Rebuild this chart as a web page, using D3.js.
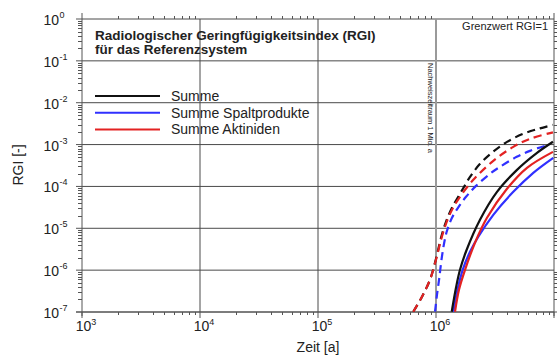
<!DOCTYPE html>
<html><head><meta charset="utf-8">
<script src="https://cdn.jsdelivr.net/npm/d3@7"></script>
<style>
html,body{margin:0;padding:0;background:#fff;}
text{font-family:"Liberation Sans",Arial,sans-serif;fill:#222;}
</style></head>
<body>
<svg id="chart" width="557" height="358"></svg>
<script>
// ---- data (time [a], RGI [-]) ----
const xTickExps = [3, 4, 5, 6];
const yTickExps = [0, -1, -2, -3, -4, -5, -6, -7];
const titleLines = ["Radiologischer Geringfügigkeitsindex (RGI)", "für das Referenzsystem"];
const legendLabels = ["Summe", "Summe Spaltprodukte", "Summe Aktiniden"];
const seriesColors = ["#111111", "#3030ff", "#e32222"];

const summeDashed = [[6.42e5,1.016e-7],[7.61e5,2.32e-7],[8.89e5,5.9e-7],[1.0e6,1.87e-6],[1.103e6,5.93e-6],[1.215e6,1.43e-5],[1.366e6,3.08e-5],[1.651e6,7.85e-5],[1.942e6,1.69e-4],[2.36e6,3.46e-4],[3.042e6,6.7e-4],[3.997e6,1.16e-3],[5.462e6,1.8e-3],[7.61e6,2.44e-3],[9.8e6,2.95e-3]];
const aktinidenDashed = [[6.42e5,1.016e-7],[7.61e5,2.32e-7],[8.89e5,5.9e-7],[1.0e6,1.77e-6],[1.103e6,5.32e-6],[1.215e6,1.28e-5],[1.366e6,2.76e-5],[1.597e6,5.65e-5],[2.071e6,1.44e-4],[3.059e6,4.08e-4],[4.52e6,8.81e-4],[6.26e6,1.37e-3],[9.8e6,1.96e-3]];
const spaltDashed = [[9.81e5,1.016e-7],[1.02e6,2.59e-7],[1.067e6,6.58e-7],[1.113e6,1.77e-6],[1.169e6,4.27e-6],[1.239e6,8.72e-6],[1.366e6,1.78e-5],[1.536e6,3.08e-5],[1.796e6,5.65e-5],[2.183e6,1.03e-4],[2.868e6,2.0e-4],[3.486e6,2.94e-4],[4.83e6,5.09e-4],[6.26e6,7.07e-4],[8.39e6,9.31e-4]];
const summeSolid = [[1.359e6,1.016e-7],[1.477e6,3.8e-7],[1.597e6,1.02e-6],[1.82e6,3.07e-6],[2.36e6,1.6e-5],[3.288e6,7.43e-5],[4.858e6,2.49e-4],[7.176e6,6.34e-4],[9.8e6,1.17e-3]];
const aktinidenSolid = [[1.449e6,1.016e-7],[1.566e6,3.4e-7],[1.762e6,1.02e-6],[2.14e6,4.51e-6],[2.705e6,1.78e-5],[3.997e6,8.77e-5],[5.904e6,2.78e-4],[9.8e6,6.7e-4]];
const spaltSolid = [[1.401e6,1.016e-7],[1.521e6,3.4e-7],[1.684e6,1.02e-6],[1.942e6,2.75e-6],[2.283e6,6.27e-6],[3.059e6,2.1e-5],[4.52e6,7.43e-5],[6.675e6,2.11e-4],[9.86e6,4.82e-4]];

// ---- layout ----
const L = 82, R = 554, T = 19, B = 312;
const svg = d3.select("#chart");
const x = d3.scaleLog().domain([1e3, 1e7]).range([L, R]);
const y = d3.scaleLog().domain([1e-7, 1e0]).range([B, T]);

const minorX = [], minorY = [];
for (let e = 3; e < 7; e++) for (let m = 2; m <= 9; m++) minorX.push(m * Math.pow(10, e));
for (let e = -7; e < 0; e++) for (let m = 2; m <= 9; m++) minorY.push(m * Math.pow(10, e));

const gridCol = "#4a4a4a", tickCol = "#555";

// horizontal grid
svg.append("g").selectAll("line").data(yTickExps).join("line")
  .attr("x1", L).attr("x2", R)
  .attr("y1", d => y(Math.pow(10, d))).attr("y2", d => y(Math.pow(10, d)))
  .attr("stroke", gridCol).attr("stroke-width", 1);
// vertical grid
svg.append("g").selectAll("line").data([4, 5]).join("line")
  .attr("x1", d => x(Math.pow(10, d))).attr("x2", d => x(Math.pow(10, d)))
  .attr("y1", T).attr("y2", B).attr("stroke", gridCol).attr("stroke-width", 1);
svg.append("line").attr("x1", x(1e6)).attr("x2", x(1e6)).attr("y1", T).attr("y2", B)
  .attr("stroke", "#9a9a9a").attr("stroke-width", 2);

// frame
svg.append("line").attr("x1", L).attr("x2", L).attr("y1", T - 6).attr("y2", B + 4).attr("stroke", tickCol);
svg.append("line").attr("x1", R).attr("x2", R).attr("y1", T - 6).attr("y2", B + 4).attr("stroke", tickCol);
svg.append("line").attr("x1", L - 6).attr("x2", R + 3).attr("y1", B).attr("y2", B).attr("stroke", tickCol);

// minor ticks
const tk = svg.append("g").attr("stroke", tickCol).attr("stroke-width", 1);
tk.selectAll(".ml").data(minorY).join("line").attr("x1", L - 4).attr("x2", L)
  .attr("y1", d => Math.round(y(d)) + 0.5).attr("y2", d => Math.round(y(d)) + 0.5);
tk.selectAll(".mr").data(minorY).join("line").attr("x1", R).attr("x2", R + 3)
  .attr("y1", d => Math.round(y(d)) + 0.5).attr("y2", d => Math.round(y(d)) + 0.5);
tk.selectAll(".mb").data(minorX).join("line").attr("y1", B).attr("y2", B + 3)
  .attr("x1", d => Math.round(x(d)) + 0.5).attr("x2", d => Math.round(x(d)) + 0.5);
tk.selectAll(".mt").data(minorX).join("line").attr("y1", T - 3).attr("y2", T)
  .attr("x1", d => Math.round(x(d)) + 0.5).attr("x2", d => Math.round(x(d)) + 0.5);
// major ticks
tk.selectAll(".Ml").data(yTickExps).join("line").attr("x1", L - 6).attr("x2", L)
  .attr("y1", d => y(Math.pow(10, d))).attr("y2", d => y(Math.pow(10, d)));
tk.selectAll(".Mb").data(xTickExps.concat([7])).join("line").attr("y1", B).attr("y2", B + 6)
  .attr("x1", d => x(Math.pow(10, d))).attr("x2", d => x(Math.pow(10, d)));

// tick labels
const xl = svg.append("g").selectAll("text").data(xTickExps).join("text")
  .attr("x", d => x(Math.pow(10, d)) + 4).attr("y", 331)
  .attr("text-anchor", "middle").attr("font-size", 14);
xl.append("tspan").text("10");
xl.append("tspan").attr("dy", -6).attr("font-size", 9).text(d => d);

svg.append("g").selectAll("text").data(yTickExps).join("text")
  .attr("x", 59).attr("y", d => y(Math.pow(10, d)) + 6)
  .attr("text-anchor", "end").attr("font-size", 14).text("10");
svg.append("g").selectAll("text").data(yTickExps).join("text")
  .attr("x", 59.5).attr("y", d => y(Math.pow(10, d)) - 1)
  .attr("font-size", 9).text(d => d === 0 ? "0" : "-" + Math.abs(d));

// axis titles
svg.append("text").attr("x", 318).attr("y", 352).attr("text-anchor", "middle")
  .attr("font-size", 14).text("Zeit [a]");
svg.append("text").attr("transform", "translate(23,165) rotate(-90)").attr("text-anchor", "middle")
  .attr("font-size", 14).text("RGI [-]");

// curves
svg.append("clipPath").attr("id", "clip").append("rect")
  .attr("x", L).attr("y", T).attr("width", R - L + 1).attr("height", B - T);
const line = d3.line().x(d => x(d[0])).y(d => y(d[1])).curve(d3.curveCatmullRom.alpha(0.5));
const curves = svg.append("g").attr("clip-path", "url(#clip)");
const series = [
  [summeDashed, 0, true], [spaltDashed, 1, true], [aktinidenDashed, 2, true],
  [spaltSolid, 1, false], [aktinidenSolid, 2, false], [summeSolid, 0, false]
];
series.forEach(([data, ci, dashed]) => {
  curves.append("path").datum(data).attr("d", line).attr("fill", "none")
    .attr("stroke", seriesColors[ci]).attr("stroke-width", 2.2)
    .attr("stroke-dasharray", dashed ? "8,5" : null);
});

// title
svg.append("g").selectAll("text").data(titleLines).join("text")
  .attr("x", 95).attr("y", (d, i) => 40 + i * 13.5)
  .attr("font-size", 13.5).attr("font-weight", "bold").attr("fill", "#111").text(d => d);

// legend
const lg = svg.append("g").selectAll("g").data(legendLabels).join("g")
  .attr("transform", (d, i) => `translate(0,${96 + i * 16.7})`);
lg.append("line").attr("x1", 95).attr("x2", 160).attr("stroke", (d, i) => seriesColors[i]).attr("stroke-width", 2);
lg.append("text").attr("x", 171).attr("y", 5).attr("font-size", 14).text(d => d);

// annotations
svg.append("text").attr("x", 548).attr("y", 30).attr("text-anchor", "end")
  .attr("font-size", 11).text("Grenzwert RGI=1");
svg.append("text").attr("transform", "translate(428,63) rotate(90)")
  .attr("font-size", 7.5).text("Nachweiszeitraum 1 Mio. a");
</script>
</body></html>
